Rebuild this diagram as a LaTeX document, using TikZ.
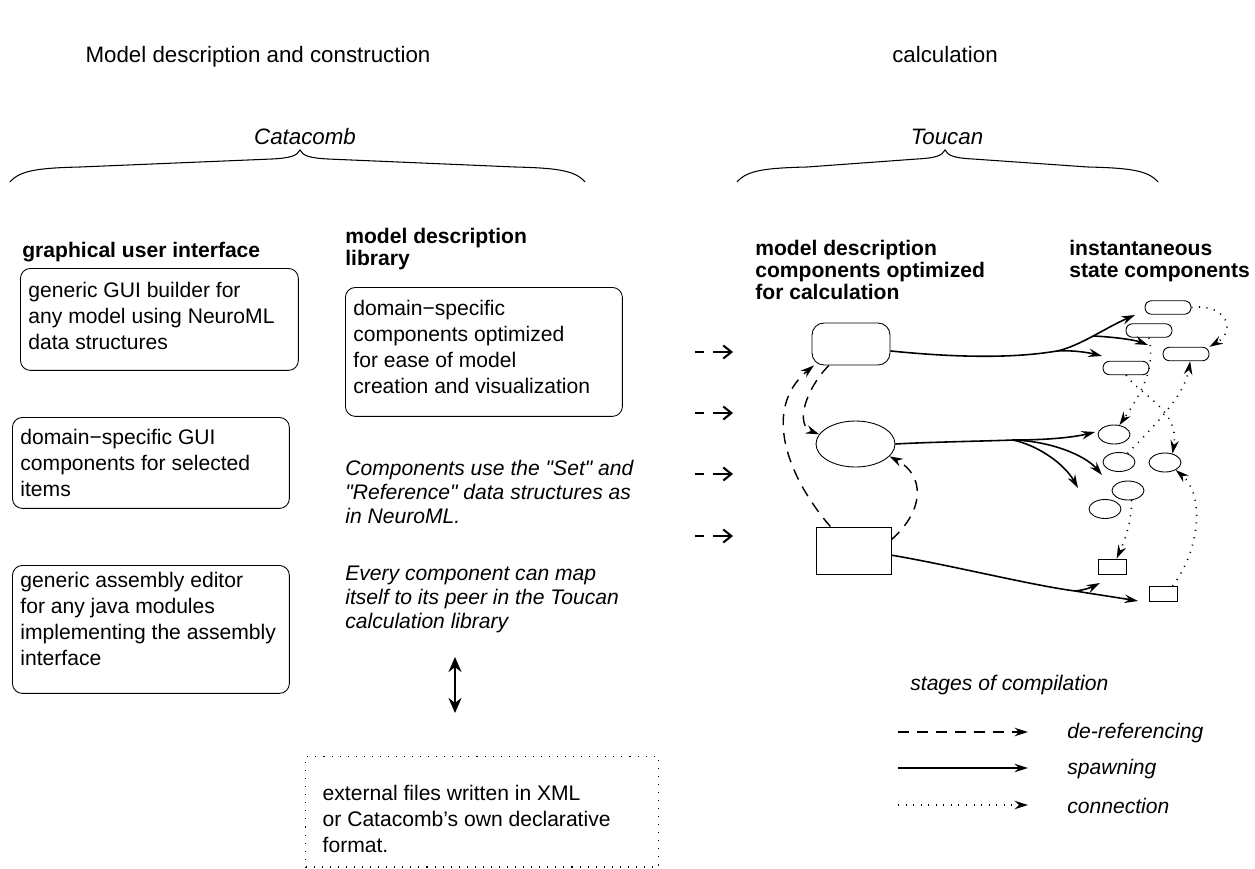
\documentclass[tikz,border=0pt]{standalone}
\usepackage{fontspec}
\newfontfamily\lsans{Liberation Sans}
\usetikzlibrary{arrows.meta,shapes.geometric,positioning}
\newcommand{\boxtext}[4][t]{\parbox[t][#2][#1]{#3}{\raggedright #4}}

\begin{document}
\begin{tikzpicture}[x=0.02cm, y=-0.02cm,
  font=\lsans\fontsize{12}{14.8}\selectfont,
  every node/.style={inner sep=0},
  title/.style={font=\lsans\fontsize{12.7}{15}\selectfont, anchor=base},
  head/.style={font=\lsans\fontsize{12}{12.5}\selectfont\bfseries, align=left, anchor=north west},
  note/.style={font=\lsans\fontsize{12}{13.6}\selectfont\itshape, align=left, anchor=north west},
  guibox/.style={draw, line width=0.5pt, rounded corners=0.2cm, anchor=north west, inner xsep=0.16cm},
  mdl/.style={draw, line width=0.5pt},
  pill/.style={draw, line width=0.5pt, rounded corners=0.13cm, minimum width=0.92cm, minimum height=0.27cm},
  blob/.style={draw, ellipse, line width=0.5pt, minimum width=0.64cm, minimum height=0.38cm},
  slot/.style={draw, line width=0.5pt, minimum width=0.56cm, minimum height=0.3cm},
  headed/.style={-{Stealth[length=2.7mm, width=1.7mm, inset=0.9mm]}},
  derefarrow/.style={headed, line width=0.8pt, dash pattern=on 2.2mm off 1.6mm},
  spawnline/.style={line width=0.9pt},
  spawnarrow/.style={spawnline, headed},
  connarrow/.style={headed, line width=0.9pt, dash pattern=on 0.6pt off 1.3mm},
  feedarrow/.style={-{Straight Barb[length=1.6mm, width=2.6mm]}, line width=1.2pt, dash pattern=on 1.8mm off 1.8mm on 5mm off 1mm},
  bracepath/.style={line width=0.6pt}
]
\useasboundingbox (0,0) rectangle (1255,869);

% titles and braces
\node[title] (mtitle) at (258,62) {Model description and construction};
\node[title] (ctitle) at (945,62) {calculation};
\node[title, font=\lsans\fontsize{12.7}{15}\selectfont\itshape] (cata) at (305,144) {Catacomb};
\node[title, font=\lsans\fontsize{12.7}{15}\selectfont\itshape] (touc) at (947,144) {Toucan};

\draw[bracepath] (10,182) .. controls (20,170) and (40,168) .. (80,167) -- (272,159)
  .. controls (290,158) and (297,156) .. (300,150) .. controls (303,156) and (310,158) .. (328,159)
  -- (515,167) .. controls (555,168) and (575,170) .. (585,182);
\draw[bracepath] (737,182) .. controls (747,170) and (767,168) .. (807,167) -- (917,159)
  .. controls (935,158) and (942,156) .. (945,150) .. controls (948,156) and (955,158) .. (973,159)
  -- (1088,167) .. controls (1128,168) and (1148,170) .. (1158,182);

% column headings
\node[head] (guihead) at (22,242) {graphical user interface};
\node[head] (libhead) at (345,228) {model description\\library};
\node[head] (calchead) at (755,240) {model description\\components optimized\\for calculation};
\node[head] (statehead) at (1069,240) {instantaneous\\state components};

% Catacomb boxes
\node[guibox, inner ysep=0.28cm] (guibuild) at (20,268) {\boxtext{1.48cm}{5.24cm}{generic GUI builder for\\any model using NeuroML\\data structures}};
\node[guibox, inner ysep=0.24cm] (guidomain) at (12,417) {\boxtext{1.34cm}{5.22cm}{domain−specific GUI\\components for selected\\items}};
\node[guibox, inner ysep=0.14cm] (guiasm) at (12,565) {\boxtext{2.28cm}{5.22cm}{generic assembly editor\\for any java modules\\implementing the assembly\\interface}};
\node[guibox, inner ysep=0.26cm] (libbox) at (345,287) {\boxtext{2.06cm}{5.22cm}{domain−specific\\components optimized\\for ease of model\\creation and visualization}};

\node[note] (setnote) at (345,460) {Components use the "Set" and\\"Reference" data structures as\\in NeuroML.};
\node[note] (mapnote) at (345,566) {Every component can map\\itself to its peer in the Toucan\\calculation library};

\coordinate (dblt) at (455,657);
\coordinate (dblb) at (455,713);
\draw[{Stealth[length=3mm, width=2.6mm]}-{Stealth[length=3mm, width=2.6mm]}, line width=1.4pt] (dblt) -- (dblb);

\node[draw, anchor=north west, line width=0.8pt, dash pattern=on 0.6pt off 1.4mm, inner xsep=0.34cm, inner ysep=0.28cm] (extfiles) at (305,756)
  {\boxtext[b]{1.64cm}{6.38cm}{external files written in XML\\or Catacomb’s own declarative\\format.}};

% Toucan: model components
\node[mdl, rounded corners=0.24cm, minimum width=1.56cm, minimum height=0.84cm] (mrr) at (851,344) {};
\node[mdl, ellipse, minimum width=1.58cm, minimum height=0.92cm] (mell) at (855.5,444) {};
\node[mdl, minimum width=1.5cm, minimum height=0.94cm] (mrect) at (853.5,550.5) {};

% state components
\node[pill] (s1) at (1168,307.5) {};
\node[pill] (s2) at (1149,330.5) {};
\node[pill] (s3) at (1186,354) {};
\node[pill] (s4) at (1126,368) {};
\node[blob] (e1) at (1114,434.5) {};
\node[blob] (e2) at (1119,462) {};
\node[blob] (e3) at (1165,462.5) {};
\node[blob] (e4) at (1128,490.5) {};
\node[blob] (e5) at (1105,509) {};
\node[slot] (r1) at (1112,566.5) {};
\node[slot] (r2) at (1163,594) {};

% incoming
\foreach \y [count=\i] in {352,413,474,536} {
  \coordinate (feedin\i) at (695,\y);
  \coordinate (feedout\i) at (733,\y);
  \draw[feedarrow] (feedin\i) -- (feedout\i);
}

% spawning
\coordinate (b1) at (1057,351);
\coordinate (b2) at (1093,336);
\coordinate (b3) at (1013,440);
\coordinate (b4) at (1075,591);
\coordinate (sp1) at (1102,356);
\coordinate (sp2) at (1135,315);
\coordinate (sp3) at (1148,345);
\coordinate (sp4) at (1095,432);
\coordinate (sp5) at (1102,475);
\coordinate (sp6) at (1078,488);
\coordinate (sp7) at (1100,583);
\coordinate (sp8) at (1138,601);
\draw[spawnline] (mrr.-10) .. controls (950,357) and (1010,359) .. (b1);
\draw[spawnarrow] (b1) .. controls (1075,350) and (1090,353) .. (sp1);
\draw[spawnarrow] (b1) .. controls (1080,346) and (1105,328) .. (sp2);
\draw[spawnarrow] (b2) .. controls (1115,337) and (1135,340) .. (sp3);
\draw[spawnline] (mell.east) .. controls (930,442) and (990,441) .. (b3);
\draw[spawnarrow] (b3) .. controls (1050,440) and (1075,437) .. (sp4);
\draw[spawnarrow] (b3) .. controls (1050,441) and (1085,455) .. (sp5);
\draw[spawnarrow] (b3) .. controls (1040,446) and (1065,465) .. (sp6);
\draw[spawnline] (mrect.-7) .. controls (950,565) and (1030,585) .. (b4);
\draw[spawnarrow] (b4) .. controls (1085,590) and (1092,587) .. (sp7);
\draw[spawnarrow] (b4) .. controls (1100,595) and (1120,598) .. (sp8);

% de-referencing
\draw[derefarrow] (mrr.-136) .. controls (805,390) and (795,425) .. (mell.165);
\draw[derefarrow] (mrect.134) .. controls (790,480) and (760,410) .. (mrr.-150);
\draw[derefarrow] (mrect.16) .. controls (925,510) and (925,475) .. (mell.-20);

% connections
\draw[connarrow] (s1.east) .. controls (1225,303) and (1238,330) .. (s3.north east);
\draw[connarrow] (s2.south) .. controls (1156,370) and (1140,395) .. (e1.60);
\draw[connarrow] (s4.south) .. controls (1140,395) and (1180,410) .. (e3.50);
\draw[connarrow] (e2.45) .. controls (1155,425) and (1185,395) .. (s3.-60);
\draw[connarrow] (e4.-70) .. controls (1132,520) and (1125,540) .. (r1.60);
\draw[connarrow] (r2.40) .. controls (1200,550) and (1205,495) .. (e3.-35);

% legend
\node[note, anchor=base west] (stages) at (910,690) {stages of compilation};
\foreach \y/\sty/\txt [count=\i] in {732/derefarrow/de-referencing, 768/spawnarrow/spawning, 805/connarrow/connection} {
  \coordinate (key\i) at (898,\y);
  \coordinate (keyend\i) at (1028,\y);
  \node[note, anchor=west] (keytxt\i) at (1067,\y+1) {\txt};
  \draw[\sty] (key\i) -- (keyend\i);
}
\end{tikzpicture}
\end{document}
